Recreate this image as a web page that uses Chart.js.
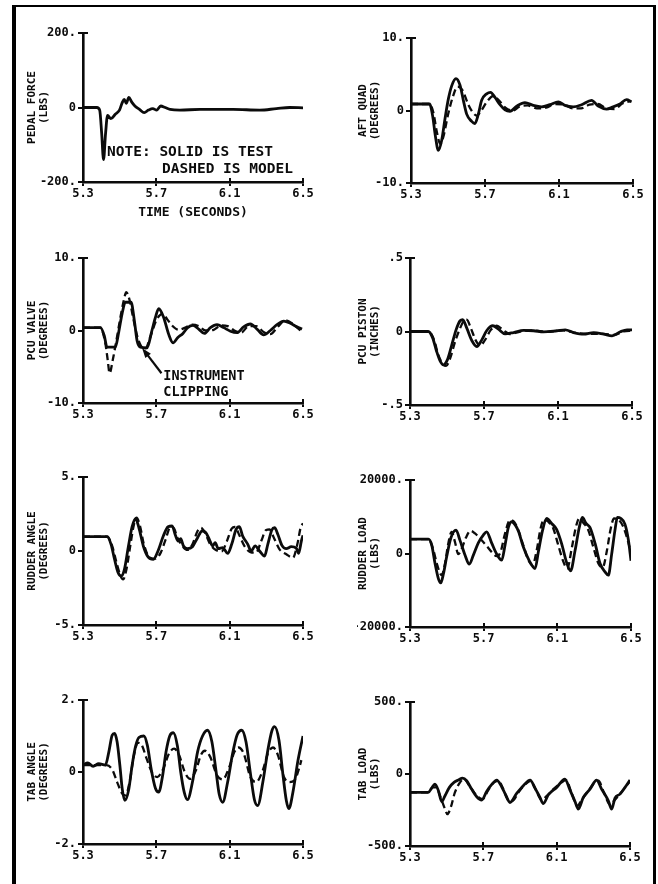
<!DOCTYPE html>
<html>
<head>
<meta charset="utf-8">
<script src="https://cdn.jsdelivr.net/npm/chart.js@4.4.1/dist/chart.umd.min.js"></script>
<style>
  html, body { margin: 0; padding: 0; background: #fff; }
  body { width: 658px; height: 884px; position: relative; overflow: hidden; }
  #frame {
    position: absolute; left: 12px; top: 5px; width: 637px; height: 900px;
    border-left: 4px solid #000; border-top: 2px solid #000; border-right: 3px solid #000;
  }
  canvas { position: absolute; }
</style>
</head>
<body>
<div id="frame"></div>
<script>
// ---- shared time axis ----
const xTickValues = [5.3, 5.7, 6.1, 6.5];
const xTickLabels = ['5.3', '5.7', '6.1', '6.5'];

// ---- pedal force (lbs) ----
const pedalTicks = [-200, 0, 200];
const pedalTickLabels = ['-200.', '0', '200.'];
const pedalTime = [5.300, 5.376, 5.391, 5.402, 5.412, 5.423, 5.434, 5.452, 5.476, 5.499, 5.514, 5.525, 5.536, 5.550, 5.565, 5.583, 5.608, 5.634, 5.657, 5.681, 5.702, 5.724, 5.748, 5.775, 5.829, 5.938, 6.119, 6.264, 6.355, 6.427, 6.500];
const pedalTest = [0, 0, -7, -70, -140, -70, -21, -30, -18, -7, 13, 22, 11, 27, 15, 4, -5, -14, -7, -3, -7, 4, 0, -5, -7, -5, -5, -7, -3, 0, -1];

// ---- aft quadrant (degrees) ----
const quadTicks = [-10, 0, 10];
const quadTickLabels = ['-10.', '0', '10.'];
const quadTestTime = [5.300, 5.400, 5.418, 5.431, 5.448, 5.466, 5.484, 5.502, 5.520, 5.543, 5.565, 5.583, 5.601, 5.628, 5.645, 5.664, 5.682, 5.709, 5.730, 5.754, 5.781, 5.808, 5.835, 5.871, 5.916, 5.961, 6.006, 6.051, 6.096, 6.132, 6.177, 6.222, 6.276, 6.312, 6.357, 6.393, 6.429, 6.465, 6.492];
const quadTest = [0.9, 0.9, -0.9, -3.4, -5.5, -4.1, -1.1, 1.6, 3.4, 4.4, 3.5, 1.4, -0.5, -1.5, -1.8, -0.5, 1.4, 2.3, 2.5, 1.8, 0.8, 0.1, -0.1, 0.6, 1.1, 0.7, 0.5, 0.8, 1.2, 0.7, 0.5, 0.8, 1.4, 0.6, 0.2, 0.5, 0.9, 1.5, 1.2];
const quadModelTime = [5.300, 5.400, 5.420, 5.440, 5.458, 5.475, 5.500, 5.525, 5.552, 5.578, 5.610, 5.635, 5.655, 5.680, 5.710, 5.744, 5.775, 5.810, 5.850, 5.890, 5.930, 5.980, 6.030, 6.080, 6.130, 6.175, 6.220, 6.265, 6.310, 6.355, 6.400, 6.445, 6.490];
const quadModel = [0.9, 0.9, -0.2, -3.0, -4.6, -3.6, -0.6, 1.8, 3.3, 2.8, 0.8, -0.3, -0.7, 0.0, 1.2, 2.0, 1.4, 0.4, 0.0, 0.6, 0.7, 0.3, 0.4, 0.9, 0.8, 0.3, 0.3, 0.8, 0.9, 0.3, 0.2, 1.0, 1.3];

// ---- PCU valve (degrees) ----
const valveTicks = [-10, 0, 10];
const valveTickLabels = ['-10.', '0', '10.'];
const valveTestTime = [5.300, 5.395, 5.416, 5.431, 5.476, 5.495, 5.513, 5.531, 5.562, 5.580, 5.595, 5.613, 5.649, 5.676, 5.695, 5.713, 5.740, 5.767, 5.791, 5.816, 5.845, 5.871, 5.900, 5.931, 5.962, 5.995, 6.031, 6.067, 6.104, 6.140, 6.176, 6.213, 6.249, 6.285, 6.322, 6.358, 6.395, 6.431, 6.467, 6.495];
const valveTest = [0.4, 0.4, -0.7, -2.3, -2.3, -0.2, 2.3, 3.9, 3.9, 1.4, -1.4, -2.3, -2.4, 0.0, 1.8, 3.0, 1.8, -0.5, -1.7, -1.0, -0.4, 0.4, 0.7, 0.2, -0.4, 0.4, 0.8, 0.4, -0.1, -0.3, 0.5, 0.9, 0.2, -0.6, 0.0, 0.8, 1.3, 1.0, 0.5, 0.2];
const valveModelTime = [5.300, 5.395, 5.422, 5.435, 5.445, 5.462, 5.482, 5.504, 5.522, 5.536, 5.555, 5.573, 5.595, 5.616, 5.640, 5.667, 5.700, 5.733, 5.758, 5.785, 5.822, 5.858, 5.895, 5.931, 5.967, 6.013, 6.053, 6.089, 6.125, 6.162, 6.204, 6.245, 6.285, 6.322, 6.362, 6.404, 6.445, 6.485];
const valveModel = [0.4, 0.4, -1.8, -4.1, -5.9, -4.1, -1.4, 1.8, 4.1, 5.3, 4.1, 1.8, -0.7, -2.1, -2.5, -0.9, 1.4, 2.3, 1.6, 0.7, 0.1, 0.4, 0.8, 0.6, 0.0, 0.1, 0.7, 0.6, 0.0, -0.3, 0.6, 0.6, -0.2, -0.5, 0.5, 1.4, 0.9, 0.0];

// ---- PCU piston (inches) ----
const pistonTicks = [-0.5, 0, 0.5];
const pistonTickLabels = ['-.5', '0', '.5'];
const pistonTestTime = [5.300, 5.399, 5.423, 5.444, 5.462, 5.480, 5.502, 5.526, 5.549, 5.571, 5.585, 5.607, 5.634, 5.661, 5.688, 5.715, 5.748, 5.778, 5.814, 5.860, 5.914, 5.968, 6.022, 6.094, 6.139, 6.184, 6.239, 6.293, 6.347, 6.392, 6.437, 6.473, 6.500];
const pistonTest = [0, 0, -0.045, -0.136, -0.198, -0.227, -0.193, -0.091, 0.011, 0.073, 0.080, 0.023, -0.061, -0.102, -0.057, 0.007, 0.039, 0.016, -0.016, -0.007, 0.007, 0.005, -0.002, 0.005, 0.011, -0.007, -0.018, -0.007, -0.018, -0.030, -0.002, 0.011, 0.011];
const pistonModelTime = [5.300, 5.399, 5.430, 5.453, 5.477, 5.495, 5.517, 5.544, 5.571, 5.592, 5.607, 5.629, 5.654, 5.679, 5.706, 5.737, 5.769, 5.802, 5.841, 5.896, 5.968, 6.040, 6.130, 6.203, 6.275, 6.347, 6.401, 6.455, 6.500];
const pistonModel = [0, 0, -0.057, -0.159, -0.220, -0.234, -0.182, -0.068, 0.023, 0.073, 0.080, 0.023, -0.057, -0.095, -0.057, 0.011, 0.039, 0.011, -0.018, 0, 0.007, -0.002, 0.007, -0.011, -0.016, -0.016, -0.023, 0, 0.005];

// ---- rudder angle (degrees) ----
const rudderTicks = [-5, 0, 5];
const rudderTickLabels = ['-5.', '0', '5.'];
const rudderTestTime = [5.300, 5.432, 5.453, 5.472, 5.490, 5.508, 5.526, 5.548, 5.568, 5.587, 5.605, 5.629, 5.654, 5.684, 5.709, 5.738, 5.764, 5.786, 5.804, 5.819, 5.833, 5.848, 5.870, 5.897, 5.925, 5.950, 5.970, 5.989, 6.007, 6.021, 6.038, 6.062, 6.089, 6.111, 6.135, 6.153, 6.171, 6.199, 6.217, 6.239, 6.263, 6.290, 6.308, 6.330, 6.345, 6.363, 6.385, 6.409, 6.436, 6.463, 6.476, 6.491, 6.500];
const rudderTest = [0.97, 0.97, 0.45, -0.56, -1.42, -1.69, -1.24, 0.34, 1.64, 2.18, 1.57, 0.34, -0.38, -0.56, 0, 1.01, 1.64, 1.69, 1.06, 0.67, 0.83, 0.34, 0.16, 0.29, 0.90, 1.35, 1.24, 0.79, 0.34, 0.56, 0.16, 0.22, -0.16, 0.45, 1.46, 1.64, 1.01, 0.45, 0, 0.34, 0, -0.34, 0.45, 1.42, 1.57, 1.12, 0.38, 0.16, 0.29, 0.20, -0.16, 0.67, 1.06];
const rudderModelTime = [5.300, 5.432, 5.459, 5.483, 5.505, 5.519, 5.537, 5.559, 5.578, 5.592, 5.611, 5.632, 5.665, 5.696, 5.724, 5.751, 5.775, 5.793, 5.815, 5.842, 5.870, 5.897, 5.925, 5.943, 5.965, 5.994, 6.025, 6.056, 6.085, 6.111, 6.129, 6.153, 6.180, 6.213, 6.244, 6.272, 6.299, 6.317, 6.341, 6.372, 6.409, 6.445, 6.469, 6.487, 6.500];
const rudderModel = [0.97, 0.97, 0.34, -0.79, -1.69, -1.91, -1.24, 0.45, 1.80, 2.25, 1.69, 0.45, -0.45, -0.52, -0.11, 0.79, 1.57, 1.57, 0.90, 0.34, 0.07, 0.45, 1.35, 1.57, 1.24, 0.45, 0.07, -0.02, 0.67, 1.51, 1.62, 1.06, 0.34, -0.07, -0.11, 0.67, 1.42, 1.46, 0.90, 0.11, -0.22, -0.45, 0.45, 1.57, 1.87];

// ---- rudder load (lbs) ----
const loadTicks = [-20000, 0, 20000];
const loadTickLabels = ['-20000.', '0', '20000.'];
const loadTestTime = [5.300, 5.400, 5.418, 5.436, 5.454, 5.467, 5.481, 5.499, 5.521, 5.550, 5.571, 5.599, 5.622, 5.644, 5.671, 5.698, 5.716, 5.743, 5.771, 5.798, 5.816, 5.834, 5.852, 5.872, 5.890, 5.915, 5.948, 5.979, 5.997, 6.020, 6.042, 6.069, 6.096, 6.124, 6.151, 6.172, 6.196, 6.219, 6.236, 6.256, 6.277, 6.305, 6.332, 6.359, 6.377, 6.395, 6.413, 6.426, 6.444, 6.467, 6.486, 6.500];
const loadTest = [3900, 3900, 2270, -2730, -6820, -8000, -5640, -910, 4090, 6360, 3640, -450, -2910, -450, 2910, 5000, 5910, 2910, -180, -1820, 2270, 7090, 8640, 7730, 5910, 1820, -2000, -4090, 450, 6360, 9550, 8180, 6550, 2550, -2550, -4730, 730, 7090, 9820, 8180, 7090, 2730, -2730, -5000, -5910, -180, 6360, 9820, 9550, 8000, 3640, -2000];
const loadModelTime = [5.300, 5.400, 5.427, 5.448, 5.472, 5.490, 5.508, 5.526, 5.544, 5.562, 5.581, 5.604, 5.629, 5.653, 5.680, 5.713, 5.743, 5.771, 5.792, 5.816, 5.843, 5.865, 5.888, 5.915, 5.943, 5.966, 5.988, 6.009, 6.028, 6.051, 6.078, 6.105, 6.133, 6.154, 6.178, 6.201, 6.219, 6.241, 6.268, 6.295, 6.323, 6.346, 6.368, 6.390, 6.408, 6.431, 6.458, 6.482, 6.500];
const loadModel = [3900, 3900, 910, -3180, -5910, -2730, 2730, 5910, 3180, -180, 1360, 4360, 6180, 5450, 4090, 2270, 450, -730, 450, 5450, 9090, 8640, 6360, 2270, -1820, -3180, 910, 6820, 9270, 8640, 6820, 2270, -2270, -4090, 1360, 7270, 9550, 8360, 6360, 1820, -2730, -3820, 450, 6820, 9550, 9270, 7270, 3640, 0];

// ---- tab angle (degrees) ----
const tabTicks = [-2, 0, 2];
const tabTickLabels = ['-2.', '0', '2.'];
const tabTestTime = [5.300, 5.326, 5.355, 5.386, 5.422, 5.441, 5.459, 5.472, 5.486, 5.501, 5.514, 5.528, 5.550, 5.568, 5.587, 5.605, 5.632, 5.651, 5.673, 5.695, 5.713, 5.733, 5.753, 5.773, 5.793, 5.815, 5.833, 5.852, 5.870, 5.897, 5.925, 5.952, 5.979, 6.003, 6.025, 6.043, 6.062, 6.089, 6.116, 6.140, 6.166, 6.189, 6.213, 6.235, 6.253, 6.281, 6.308, 6.330, 6.345, 6.369, 6.390, 6.409, 6.423, 6.445, 6.473, 6.500];
const tabTest = [0.19, 0.25, 0.16, 0.23, 0.19, 0.56, 1.02, 1.07, 0.84, 0.19, -0.47, -0.79, -0.47, 0.19, 0.72, 0.96, 1.00, 0.74, 0.05, -0.45, -0.56, -0.14, 0.56, 1.00, 1.09, 0.72, 0, -0.56, -0.77, -0.28, 0.56, 1.00, 1.16, 0.84, 0.05, -0.62, -0.84, -0.28, 0.51, 1.02, 1.16, 0.84, -0.03, -0.77, -0.93, -0.28, 0.60, 1.14, 1.26, 0.88, -0.05, -0.79, -1.02, -0.56, 0.33, 1.00];
const tabModelTime = [5.300, 5.428, 5.459, 5.486, 5.514, 5.532, 5.556, 5.578, 5.600, 5.618, 5.647, 5.678, 5.705, 5.738, 5.769, 5.797, 5.824, 5.855, 5.884, 5.916, 5.943, 5.965, 5.994, 6.031, 6.062, 6.098, 6.126, 6.148, 6.177, 6.213, 6.244, 6.281, 6.308, 6.336, 6.363, 6.396, 6.427, 6.454, 6.478, 6.491];
const tabModel = [0.19, 0.19, 0.07, -0.28, -0.60, -0.65, -0.23, 0.47, 0.81, 0.77, 0.37, -0.03, -0.14, 0.09, 0.51, 0.65, 0.47, 0, -0.19, 0.05, 0.47, 0.59, 0.42, -0.09, -0.21, 0.14, 0.56, 0.68, 0.51, -0.14, -0.28, 0.05, 0.51, 0.68, 0.47, -0.14, -0.28, -0.23, 0.09, 0.33];

// ---- tab load (lbs) ----
const tabLoadTicks = [-500, 0, 500];
const tabLoadTickLabels = ['-500.', '0', '500.'];
const tabLoadTestTime = [5.300, 5.400, 5.418, 5.436, 5.455, 5.473, 5.491, 5.515, 5.540, 5.564, 5.587, 5.609, 5.636, 5.664, 5.691, 5.718, 5.745, 5.773, 5.800, 5.824, 5.845, 5.882, 5.918, 5.955, 5.982, 6.009, 6.027, 6.055, 6.100, 6.145, 6.173, 6.200, 6.218, 6.245, 6.282, 6.318, 6.345, 6.382, 6.400, 6.418, 6.445, 6.473, 6.500];
const tabLoadTest = [-128, -128, -98, -70, -116, -191, -151, -93, -58, -42, -28, -47, -105, -158, -181, -121, -74, -42, -88, -151, -198, -135, -81, -42, -98, -163, -205, -144, -93, -35, -112, -191, -244, -163, -105, -42, -105, -186, -244, -167, -140, -93, -42];
const tabLoadModelTime = [5.300, 5.400, 5.424, 5.442, 5.467, 5.491, 5.504, 5.522, 5.545, 5.573, 5.595, 5.624, 5.664, 5.696, 5.727, 5.758, 5.782, 5.809, 5.836, 5.860, 5.891, 5.927, 5.958, 5.987, 6.018, 6.045, 6.082, 6.127, 6.151, 6.182, 6.213, 6.236, 6.273, 6.309, 6.327, 6.358, 6.391, 6.413, 6.442, 6.473, 6.500];
const tabLoadModel = [-128, -128, -93, -93, -163, -244, -279, -233, -128, -58, -35, -81, -151, -174, -112, -58, -47, -105, -181, -186, -128, -74, -47, -112, -181, -153, -105, -58, -42, -135, -221, -181, -116, -58, -47, -128, -214, -186, -144, -93, -51];

// ---- drawing ----
const FONT = "'DejaVu Sans Mono', 'Liberation Mono', monospace";
const INK = '#0b0b0b';

const pts = (ts, vs) => ts.map((t, i) => ({ x: t, y: vs[i] }));

const panels = [
  { col: 0, area: { left: 83, top: 33, right: 303, bottom: 182 }, title: ['PEDAL FORCE', '(LBS)'],
    ticks: pedalTicks, labels: pedalTickLabels, test: pts(pedalTime, pedalTest), model: null, xTitle: 'TIME (SECONDS)',
    notes: { items: [
      { t: 5.431, v: -119, text: 'NOTE: SOLID IS TEST', size: 14.5 },
      { t: 5.731, v: -165, text: 'DASHED IS MODEL', size: 14.5 } ] } },
  { col: 1, area: { left: 411, top: 38, right: 633, bottom: 183 }, title: ['AFT QUAD', '(DEGREES)'],
    ticks: quadTicks, labels: quadTickLabels, test: pts(quadTestTime, quadTest), model: pts(quadModelTime, quadModel) },
  { col: 0, area: { left: 83, top: 258, right: 303, bottom: 403 }, title: ['PCU VALVE', '(DEGREES)'],
    ticks: valveTicks, labels: valveTickLabels, test: pts(valveTestTime, valveTest), model: pts(valveModelTime, valveModel),
    notes: { items: [
      { t: 5.738, v: -6.3, text: 'INSTRUMENT', size: 13.5 },
      { t: 5.738, v: -8.5, text: 'CLIPPING', size: 13.5 } ],
      arrow: { from: [5.728, -5.9], to: [5.622, -2.4] } } },
  { col: 1, area: { left: 410, top: 258, right: 632, bottom: 405 }, title: ['PCU PISTON', '(INCHES)'],
    ticks: pistonTicks, labels: pistonTickLabels, test: pts(pistonTestTime, pistonTest), model: pts(pistonModelTime, pistonModel) },
  { col: 0, area: { left: 83, top: 477, right: 303, bottom: 625 }, title: ['RUDDER ANGLE', '(DEGREES)'],
    ticks: rudderTicks, labels: rudderTickLabels, test: pts(rudderTestTime, rudderTest), model: pts(rudderModelTime, rudderModel) },
  { col: 1, area: { left: 410, top: 480, right: 631, bottom: 627 }, title: ['RUDDER LOAD', '(LBS)'],
    ticks: loadTicks, labels: loadTickLabels, test: pts(loadTestTime, loadTest), model: pts(loadModelTime, loadModel) },
  { col: 0, area: { left: 83, top: 700, right: 303, bottom: 844 }, title: ['TAB ANGLE', '(DEGREES)'],
    ticks: tabTicks, labels: tabTickLabels, test: pts(tabTestTime, tabTest), model: pts(tabModelTime, tabModel) },
  { col: 1, area: { left: 410, top: 702, right: 630, bottom: 846 }, title: ['TAB LOAD', '(LBS)'],
    ticks: tabLoadTicks, labels: tabLoadTickLabels, test: pts(tabLoadTestTime, tabLoadTest), model: pts(tabLoadModelTime, tabLoadModel) }
];

// short tick marks on the inner side of each axis (the library draws the outer half)
const innerTicks = {
  id: 'innerTicks',
  afterDraw(chart) {
    const { ctx, chartArea: a, scales: { x, y } } = chart;
    ctx.save();
    ctx.strokeStyle = INK;
    ctx.lineWidth = 2;
    ctx.beginPath();
    xTickValues.slice(1).forEach(v => {
      const px = Math.round(x.getPixelForValue(v));
      ctx.moveTo(px, a.bottom);
      ctx.lineTo(px, a.bottom - 4);
    });
    const top = Math.round(y.getPixelForValue(y.max));
    ctx.moveTo(a.left, top);
    ctx.lineTo(a.left + 5, top);
    ctx.stroke();
    ctx.restore();
  }
};

// free text and arrow annotations placed in data coordinates
const notes = {
  id: 'notes',
  afterDraw(chart, args, opts) {
    const { ctx, scales: { x, y } } = chart;
    ctx.save();
    ctx.fillStyle = INK;
    ctx.strokeStyle = INK;
    ctx.textBaseline = 'middle';
    ctx.textAlign = 'left';
    (opts.items || []).forEach(n => {
      ctx.font = `bold ${n.size}px ${FONT}`;
      ctx.fillText(n.text, x.getPixelForValue(n.t), y.getPixelForValue(n.v));
    });
    if (opts.arrow) {
      const x0 = x.getPixelForValue(opts.arrow.from[0]), y0 = y.getPixelForValue(opts.arrow.from[1]);
      const x1 = x.getPixelForValue(opts.arrow.to[0]), y1 = y.getPixelForValue(opts.arrow.to[1]);
      const ang = Math.atan2(y1 - y0, x1 - x0);
      ctx.lineWidth = 2.2;
      ctx.beginPath();
      ctx.moveTo(x0, y0);
      ctx.lineTo(x1 - 6 * Math.cos(ang), y1 - 6 * Math.sin(ang));
      ctx.stroke();
      ctx.beginPath();
      ctx.moveTo(x1, y1);
      ctx.lineTo(x1 - 10 * Math.cos(ang) + 3.5 * Math.sin(ang), y1 - 10 * Math.sin(ang) - 3.5 * Math.cos(ang));
      ctx.lineTo(x1 - 10 * Math.cos(ang) - 3.5 * Math.sin(ang), y1 - 10 * Math.sin(ang) + 3.5 * Math.cos(ang));
      ctx.closePath();
      ctx.fill();
    }
    ctx.restore();
  }
};

function makePanel(p) {
  const colX = p.col === 0 ? 0 : 329;
  const W = 329, padTop = 16, xH = 42;
  const H = padTop + (p.area.bottom - p.area.top) + xH;
  const padL = p.col === 0 ? 26 : 28;
  const yW = p.area.left - colX - padL;
  const padR = W - (p.area.right - colX);

  const canvas = document.createElement('canvas');
  canvas.width = W;
  canvas.height = H;
  canvas.style.left = colX + 'px';
  canvas.style.top = (p.area.top - padTop) + 'px';
  canvas.style.width = W + 'px';
  canvas.style.height = H + 'px';
  document.body.appendChild(canvas);

  const tickFont = { family: FONT, size: 12, weight: 'bold' };
  const datasets = [];
  if (p.model) {
    datasets.push({ data: p.model, borderColor: INK, borderWidth: 2.3, borderDash: [7, 4],
      pointRadius: 0, cubicInterpolationMode: 'monotone', fill: false });
  }
  datasets.push({ data: p.test, borderColor: INK, borderWidth: 2.8,
    pointRadius: 0, cubicInterpolationMode: 'monotone', fill: false });

  new Chart(canvas, {
    type: 'line',
    data: { datasets },
    plugins: [innerTicks, notes],
    options: {
      responsive: false,
      animation: false,
      devicePixelRatio: 1,
      events: [],
      layout: { padding: { left: padL, top: padTop, right: padR, bottom: 0 } },
      plugins: { legend: { display: false }, tooltip: { enabled: false }, notes: p.notes || {} },
      scales: {
        x: {
          type: 'linear', min: 5.3, max: 6.5,
          afterBuildTicks: s => { s.ticks = xTickValues.map(v => ({ value: v })); },
          afterFit: s => { s.height = xH; s.paddingLeft = 0; s.paddingRight = 0; s.paddingTop = 0; s.paddingBottom = 0; },
          grid: { display: true, drawOnChartArea: false, drawTicks: true, tickLength: 4, color: INK, lineWidth: 2 },
          border: { display: true, color: INK, width: 2.6 },
          ticks: { autoSkip: false, maxRotation: 0, minRotation: 0, padding: 1, color: INK, font: tickFont,
            callback: (v, i) => xTickLabels[i] },
          title: p.xTitle
            ? { display: true, text: p.xTitle, color: INK, font: { family: FONT, size: 13, weight: 'bold' }, padding: { top: 0, bottom: 4 } }
            : { display: false }
        },
        y: {
          type: 'linear', min: p.ticks[0], max: p.ticks[p.ticks.length - 1],
          afterBuildTicks: s => { s.ticks = p.ticks.map(v => ({ value: v })); },
          afterFit: s => { s.width = yW; s.paddingLeft = 0; s.paddingRight = 0; s.paddingTop = 0; s.paddingBottom = 0; },
          grid: { display: true, drawOnChartArea: false, drawTicks: true, tickLength: 5, color: INK, lineWidth: 2 },
          border: { display: true, color: INK, width: 2.6 },
          ticks: { autoSkip: false, padding: 2, color: INK, font: tickFont, callback: (v, i) => p.labels[i] },
          title: { display: true, text: p.title, color: INK,
            font: { family: FONT, size: 11, weight: 'bold', lineHeight: 1.1 }, padding: 0 }
        }
      }
    }
  });
}

panels.forEach(makePanel);
</script>
</body>
</html>
